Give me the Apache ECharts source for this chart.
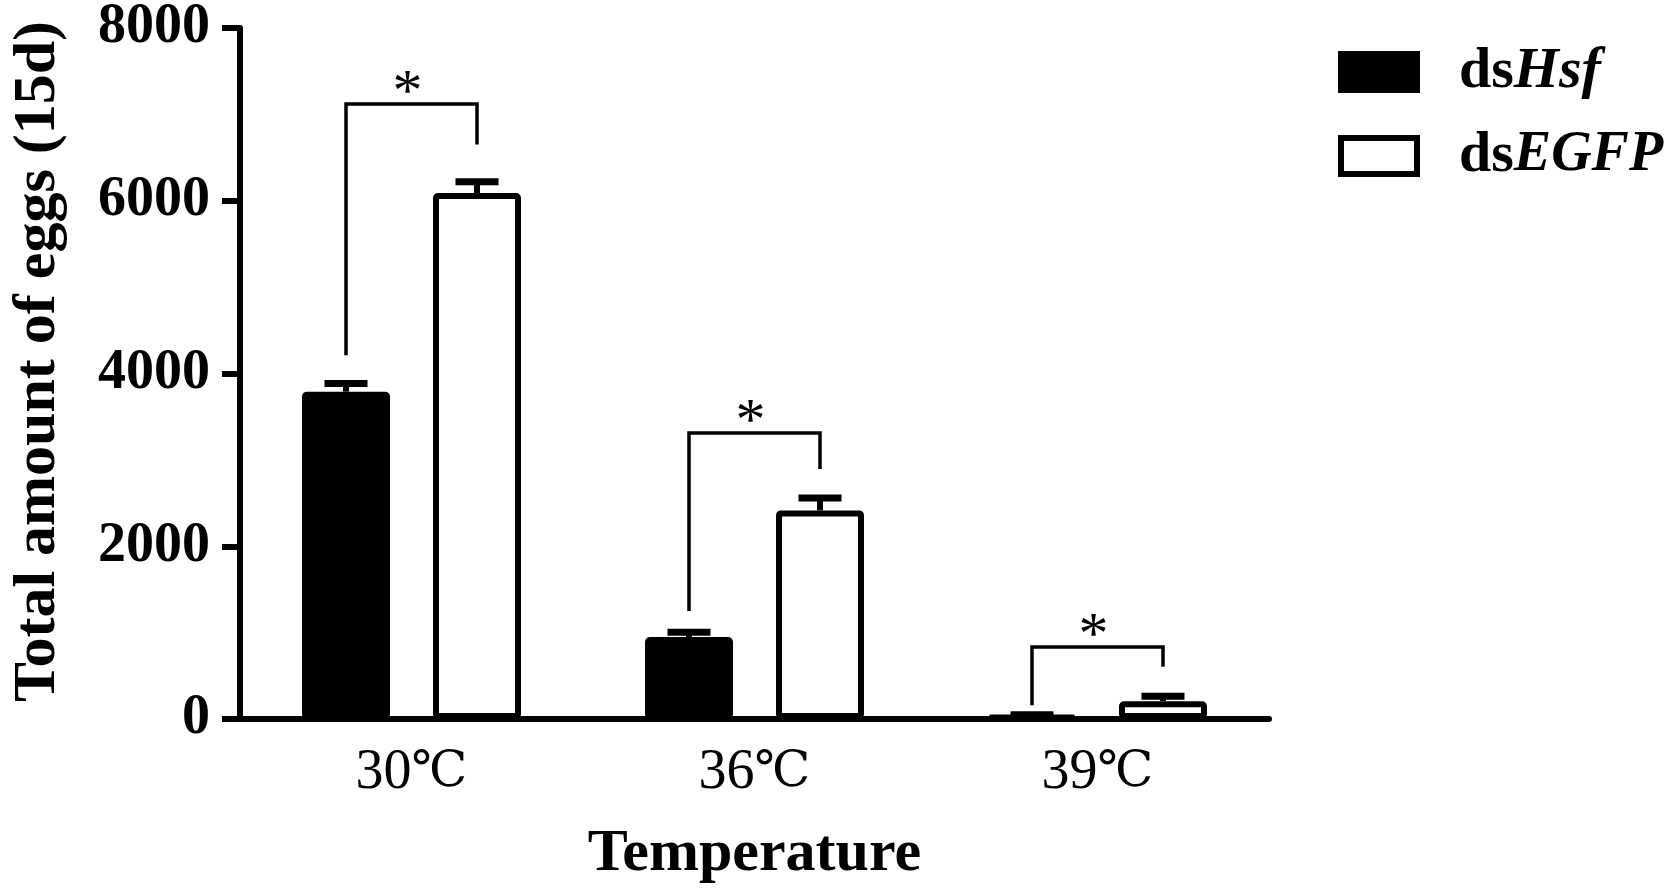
<!DOCTYPE html>
<html>
<head>
<meta charset="utf-8">
<script src="https://cdn.jsdelivr.net/npm/echarts@6/dist/echarts.min.js"></script>
<style>
html,body{margin:0;padding:0;background:#fff;}
#chart{width:1669px;height:889px;}
</style>
</head>
<body>
<div id="chart"></div>
<script>
// ---- data ----
const categories = ['30℃', '36℃', '39℃'];
const yTicks = [0, 2000, 4000, 6000, 8000];
const hsfMean = [3790, 950, 35];
const hsfErr = [95, 55, 15];
const egfpMean = [6090, 2415, 206];
const egfpErr = [130, 145, 57];
// significance brackets: left leg bottom, bracket top, right leg bottom
const sigLeft = [4210, 1250, 160];
const sigTop = [7120, 3310, 835];
const sigRight = [6650, 2895, 605];
const sigMark = ['*', '*', '*'];

// ---- layout / style ----
const FONT = '"Liberation Serif","DejaVu Serif","Times New Roman",serif';
const FONT_C = '"DejaVu Serif","Liberation Serif","Noto Sans CJK SC",serif';
const BAR_W = 88;
const BAR_GAP = 43;
const OFFSET = (BAR_W + BAR_GAP) / 2;

const errData = [];
hsfMean.forEach((v, i) => errData.push([i, v, hsfErr[i], 0]));
egfpMean.forEach((v, i) => errData.push([i, v, egfpErr[i], 1]));
const sigData = categories.map((c, i) => [i, sigLeft[i], sigTop[i], sigRight[i]]);

const chart = echarts.init(document.getElementById('chart'), null, {renderer: 'canvas'});
chart.setOption({
  animation: false,
  backgroundColor: '#fff',
  grid: {left: 220, right: 400, top: 22, bottom: 168, containLabel: false},
  legend: {
    left: 1338, top: 43, orient: 'vertical', padding: 0,
    itemWidth: 76, itemHeight: 36, itemGap: 26,
    icon: 'rect',
    itemStyle: {borderWidth: 6, borderColor: '#000'},
    data: ['dsHsf', 'dsEGFP'],
    formatter: function (name) {
      const rest = name.slice(2);
      return '{a|ds}{' + (rest.length > 3 ? 'c' : 'b') + '|' + rest + '}';
    },
    textStyle: {
      padding: [0, 0, 0, 37],
      rich: {
        a: {fontFamily: FONT, fontSize: 58, fontWeight: 'bold', color: '#000', lineHeight: 58},
        b: {fontFamily: FONT, fontSize: 58, fontWeight: 'bold', fontStyle: 'italic', color: '#000', lineHeight: 58},
        c: {fontFamily: FONT, fontSize: 56, fontWeight: 'bold', fontStyle: 'italic', color: '#000', lineHeight: 58}
      }
    }
  },
  xAxis: {
    type: 'category',
    data: categories,
    name: 'Temperature',
    nameLocation: 'middle',
    nameGap: 105,
    nameTextStyle: {fontFamily: FONT, fontSize: 60, fontWeight: 'bold', color: '#000'},
    axisLine: {lineStyle: {color: '#000', width: 6}},
    axisTick: {alignWithLabel: true, length: 18, lineStyle: {color: '#000', width: 6}},
    axisLabel: {
      margin: 26, color: '#000',
      formatter: function (v) { return '{d|' + v.slice(0, -1) + '}{c|' + v.slice(-1) + '}'; },
      rich: {
        d: {fontFamily: FONT, fontSize: 56, color: '#000'},
        c: {fontFamily: FONT_C, fontSize: 50, color: '#000'}
      }
    },
    splitLine: {show: false}
  },
  yAxis: {
    type: 'value',
    min: 0, max: 8000, interval: 2000,
    name: 'Total amount of eggs (15d)',
    nameLocation: 'middle',
    nameGap: 172,
    nameTextStyle: {fontFamily: FONT, fontSize: 60, fontWeight: 'bold', color: '#000', padding: [0, 0, 0, 24]},
    axisLine: {show: true, lineStyle: {color: '#000', width: 6}},
    axisTick: {show: true, length: 18, lineStyle: {color: '#000', width: 6}},
    axisLabel: {margin: 30, fontFamily: FONT, fontSize: 56, fontWeight: 'bold', color: '#000',
      formatter: function (v) { return yTicks.indexOf(v) >= 0 ? String(v) : ''; }},
    splitLine: {show: false}
  },
  series: [
    {
      name: 'dsHsf', type: 'bar', data: hsfMean, barWidth: BAR_W, barGap: (BAR_GAP / BAR_W * 100) + '%',
      itemStyle: {color: '#000', borderColor: '#000', borderWidth: 6, borderRadius: 2}
    },
    {
      name: 'dsEGFP', type: 'bar', data: egfpMean, barWidth: BAR_W,
      itemStyle: {color: '#fff', borderColor: '#000', borderWidth: 6, borderRadius: 2}
    },
    {
      name: 'err', type: 'custom', data: errData, z: 5,
      renderItem: function (params, api) {
        const ci = api.value(0), m = api.value(1), e = api.value(2), side = api.value(3);
        const b = api.coord([ci, m]);
        const t = api.coord([ci, m + e]);
        const x = b[0] + (side ? 1 : -1) * OFFSET;
        return {type: 'group', children: [
          {type: 'line', shape: {x1: x, y1: b[1], x2: x, y2: t[1]}, style: {stroke: '#000', lineWidth: 6}},
          {type: 'line', shape: {x1: x - 21.5, y1: t[1], x2: x + 21.5, y2: t[1]}, style: {stroke: '#000', lineWidth: 7}}
        ]};
      }
    },
    {
      name: 'sig', type: 'custom', data: sigData, z: 5,
      renderItem: function (params, api) {
        const ci = api.value(0);
        const l = api.coord([ci, api.value(1)]);
        const t = api.coord([ci, api.value(2)]);
        const r = api.coord([ci, api.value(3)]);
        const xl = l[0] - OFFSET, xr = r[0] + OFFSET;
        return {type: 'group', children: [
          {type: 'polyline', shape: {points: [[xl, l[1]], [xl, t[1]], [xr, t[1]], [xr, r[1]]]},
            style: {stroke: '#000', lineWidth: 3.5, fill: null, lineJoin: 'miter'}},
          {type: 'text', x: (xl + xr) / 2 - 4, y: t[1] - 10,
            style: {text: sigMark[ci], fontFamily: FONT, fontSize: 60, fill: '#000', align: 'center', verticalAlign: 'middle'}}
        ]};
      }
    }
  ]
});
</script>
</body>
</html>
